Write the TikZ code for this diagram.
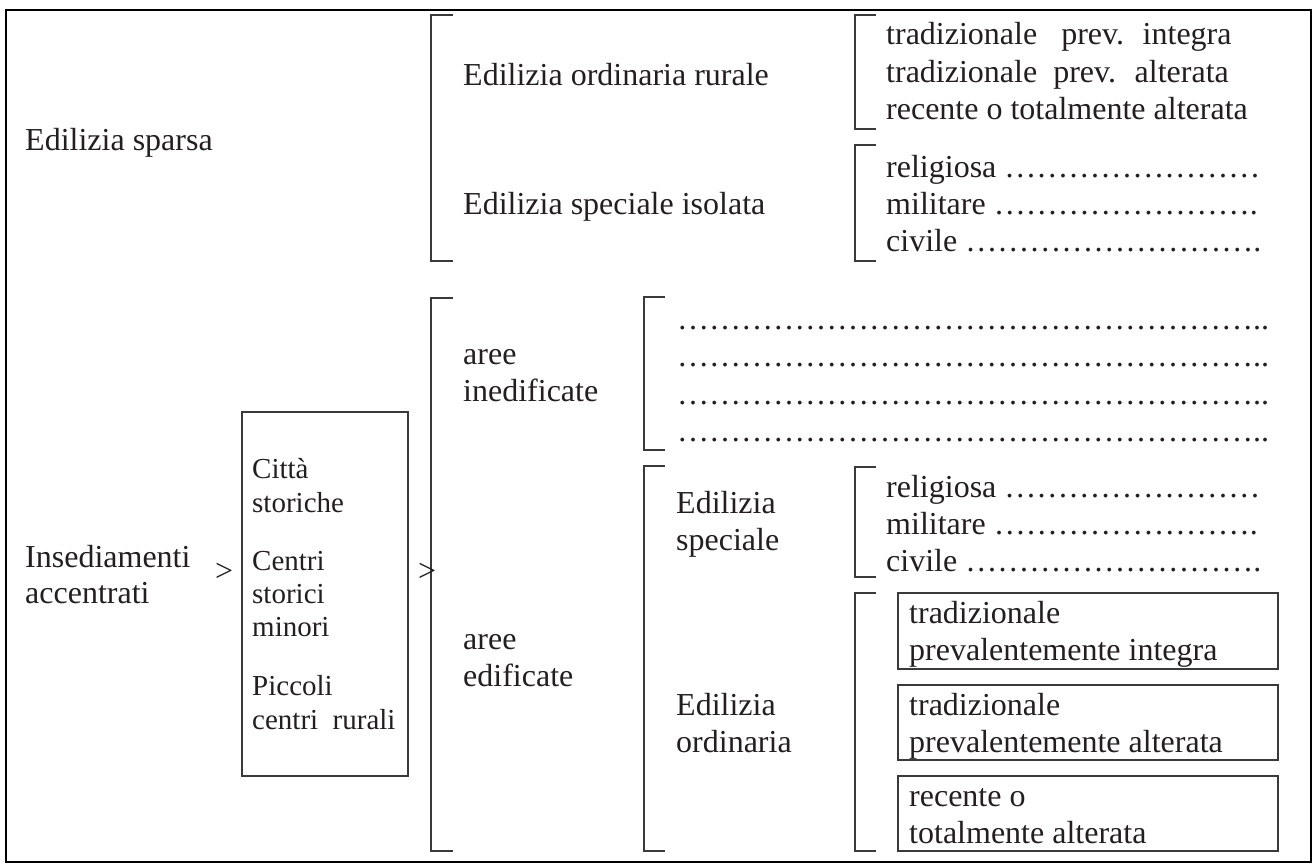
\documentclass[tikz,border=0pt]{standalone}
\usepackage{fontspec}
\setmainfont{Liberation Serif}
\definecolor{ink}{HTML}{231F20}
\definecolor{rule}{HTML}{3A3A3A}
\tikzset{
  lbl/.style={anchor=base west, inner sep=0pt, text=ink, font=\fontsize{32}{37}\selectfont},
  sml/.style={anchor=base west, inner sep=0pt, text=ink, font=\fontsize{29}{34}\selectfont},
  brk/.style={draw=rule, line width=1.4pt},
  bx/.style={draw=rule, line width=1.4pt},
  frame/.style={draw=black, line width=2pt}
}
\begin{document}
\begin{tikzpicture}[x=1pt,y=-1pt]
\useasboundingbox (0,0) rectangle (1314,867);
\draw[frame] (6,10) rectangle (1311,862);

% brackets
\draw[brk] (453,15) -- (431,15) -- (431,261) -- (453,261);
\draw[brk] (876,15) -- (855,15) -- (855,129) -- (876,129);
\draw[brk] (876,145) -- (855,145) -- (855,261) -- (876,261);
\draw[brk] (453,298) -- (431,298) -- (431,851) -- (453,851);
\draw[brk] (665,297) -- (644,297) -- (644,450) -- (665,450);
\draw[brk] (665,466) -- (644,466) -- (644,851) -- (665,851);
\draw[brk] (876,467) -- (855,467) -- (855,577) -- (876,577);
\draw[brk] (876,593) -- (855,593) -- (855,851) -- (876,851);

% boxes
\draw[bx] (242,412) rectangle (408,776);
\draw[bx] (898,593) rectangle (1278,669);
\draw[bx] (898,685) rectangle (1278,760);
\draw[bx] (898,776) rectangle (1278,851);

% top part
\node[lbl] (sparsa) at (25,150) {Edilizia sparsa};
\node[lbl] (ordrur) at (463,85) {Edilizia ordinaria rurale};
\node[lbl] (speiso) at (463,214) {Edilizia speciale isolata};
\node[lbl] (t1) at (886,45) {tradizionale\hspace{0.5em} prev.\hspace{0.25em} integra};
\node[lbl] (t2) at (886,82) {tradizionale\hspace{0.25em} prev.\hspace{0.25em} alterata};
\node[lbl] (t3) at (886,119) {recente o totalmente alterata};
\node[lbl] (r1) at (886,177) {religiosa ……………………};
\node[lbl] (r2) at (886,214) {militare …………………….};
\node[lbl] (r3) at (886,251) {civile ……………………….};

% lower part
\node[lbl] (ins1) at (25,567) {Insediamenti};
\node[lbl] (ins2) at (25,603) {accentrati};
\node[lbl] (gt1) at (215,581) {>};
\node[lbl] (gt2) at (418,581) {>};
\node[sml] (c1) at (252,478) {Città};
\node[sml] (c2) at (252,512) {storiche};
\node[sml] (c3) at (252,570) {Centri};
\node[sml] (c4) at (252,603) {storici};
\node[sml] (c5) at (252,636) {minori};
\node[sml] (c6) at (252,695) {Piccoli};
\node[sml] (c7) at (252,729) {centri\hspace{0.25em} rurali};

\node[lbl] (ai1) at (463,364) {aree};
\node[lbl] (ai2) at (463,401) {inedificate};
\node[lbl] (ae1) at (463,649) {aree};
\node[lbl] (ae2) at (463,686) {edificate};

\node[lbl] (d1) at (677,329) {………………………………………………..};
\node[lbl] (d2) at (677,366) {………………………………………………..};
\node[lbl] (d3) at (677,404) {………………………………………………..};
\node[lbl] (d4) at (677,441) {………………………………………………..};

\node[lbl] (es1) at (676,513) {Edilizia};
\node[lbl] (es2) at (676,550) {speciale};
\node[lbl] (s1) at (886,497) {religiosa ……………………};
\node[lbl] (s2) at (886,534) {militare …………………….};
\node[lbl] (s3) at (886,571) {civile ……………………….};

\node[lbl] (eo1) at (676,715) {Edilizia};
\node[lbl] (eo2) at (676,752) {ordinaria};

\node[lbl] (b11) at (909,623) {tradizionale};
\node[lbl] (b12) at (909,660) {prevalentemente integra};
\node[lbl] (b21) at (909,715) {tradizionale};
\node[lbl] (b22) at (909,752) {prevalentemente alterata};
\node[lbl] (b31) at (909,806) {recente o};
\node[lbl] (b32) at (909,843) {totalmente alterata};
\end{tikzpicture}
\end{document}
